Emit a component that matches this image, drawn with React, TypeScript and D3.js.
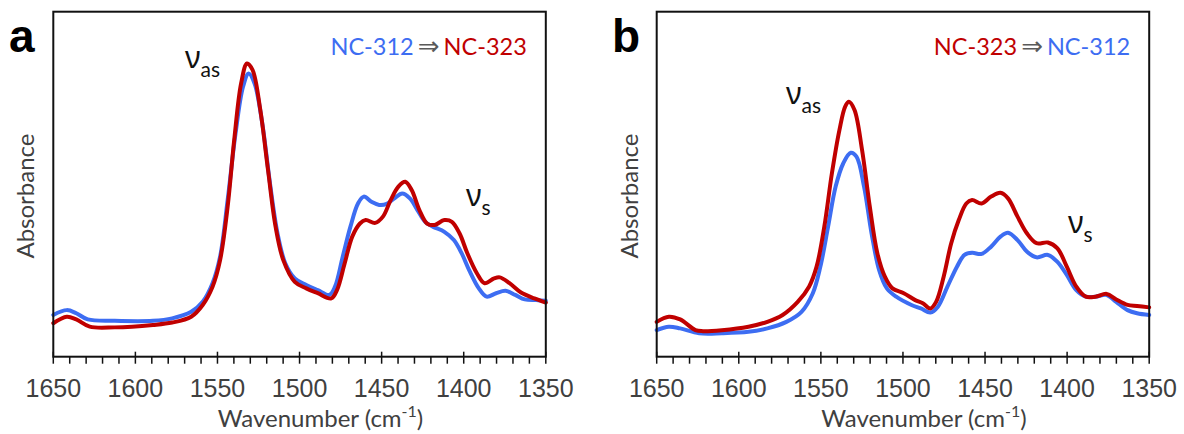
import React from "react";
import * as d3 from "d3";

// ---------- DATA ----------
const xTicksMajor = [1650, 1600, 1550, 1500, 1450, 1400, 1350];
const xTickLabels = ["1650", "1600", "1550", "1500", "1450", "1400", "1350"];

// Panel a, NC-312 (blue)
const aBlueWn = [1650, 1641.8, 1636, 1629, 1612.6, 1589.3, 1577.6, 1566, 1559, 1553, 1548.4, 1543.8, 1539, 1534.4, 1531, 1527.4, 1522.7, 1518, 1513.4, 1508.7, 1502.9, 1495.9, 1488.9, 1481.9, 1478.4, 1473.7, 1469, 1464.4, 1460.9, 1456.2, 1451.5, 1446.9, 1442.2, 1437.5, 1432.8, 1428.2, 1423.5, 1418.8, 1411.8, 1406, 1401.3, 1396.7, 1390.8, 1386.1, 1380.3, 1374.5, 1368.6, 1362.8, 1355.8, 1350];
const aBlueAbs = [0.121, 0.135, 0.126, 0.108, 0.104, 0.104, 0.111, 0.13, 0.159, 0.213, 0.29, 0.454, 0.647, 0.783, 0.821, 0.792, 0.676, 0.502, 0.357, 0.271, 0.227, 0.208, 0.193, 0.179, 0.203, 0.29, 0.377, 0.444, 0.464, 0.449, 0.44, 0.443, 0.459, 0.473, 0.459, 0.425, 0.391, 0.377, 0.362, 0.338, 0.3, 0.251, 0.198, 0.174, 0.184, 0.191, 0.179, 0.166, 0.164, 0.162];

// Panel a, NC-323 (red)
const aRedWn = [1650, 1641.8, 1636, 1627.8, 1612.6, 1589.3, 1577.6, 1566, 1559, 1553, 1548.4, 1543.8, 1539.8, 1535.6, 1532, 1528.6, 1523.9, 1519.2, 1514.6, 1509.9, 1502.9, 1495.9, 1488.9, 1480.7, 1477.2, 1472.5, 1467.9, 1463.2, 1459.7, 1453.9, 1449.2, 1444.5, 1439.8, 1435.6, 1431.7, 1427, 1422.3, 1417.7, 1411.8, 1407.2, 1402.5, 1397.8, 1392, 1387.3, 1381.5, 1378, 1372.1, 1365.1, 1357, 1350];
const aRedAbs = [0.097, 0.116, 0.108, 0.087, 0.085, 0.092, 0.099, 0.116, 0.15, 0.203, 0.28, 0.435, 0.628, 0.792, 0.85, 0.831, 0.715, 0.541, 0.377, 0.28, 0.217, 0.198, 0.184, 0.169, 0.193, 0.271, 0.348, 0.386, 0.396, 0.388, 0.406, 0.454, 0.493, 0.507, 0.483, 0.425, 0.386, 0.382, 0.396, 0.391, 0.357, 0.3, 0.242, 0.213, 0.227, 0.23, 0.213, 0.186, 0.169, 0.157];

// Panel b, NC-323 (red)
const bRedWn = [1650, 1642.6, 1635.7, 1626.4, 1621.8, 1610.3, 1594.1, 1582.6, 1573.3, 1564.1, 1557.2, 1552.6, 1547.9, 1543.3, 1538.7, 1535.2, 1532.9, 1529.5, 1524.9, 1520.2, 1515.6, 1511, 1506.4, 1499.5, 1492.5, 1487.9, 1483.3, 1479.8, 1475.2, 1470.6, 1466, 1461.4, 1457.9, 1452.1, 1446.3, 1440.6, 1436, 1430.2, 1424.4, 1418.6, 1411.7, 1405.9, 1400.2, 1394.4, 1388.6, 1382.8, 1375.9, 1370.1, 1363.2, 1357.4, 1350];
const bRedAbs = [0.101, 0.116, 0.108, 0.077, 0.074, 0.077, 0.087, 0.101, 0.121, 0.159, 0.203, 0.261, 0.377, 0.531, 0.657, 0.725, 0.739, 0.715, 0.599, 0.435, 0.3, 0.232, 0.198, 0.184, 0.164, 0.155, 0.14, 0.159, 0.232, 0.329, 0.396, 0.444, 0.454, 0.444, 0.464, 0.475, 0.459, 0.406, 0.357, 0.329, 0.331, 0.314, 0.261, 0.203, 0.174, 0.174, 0.182, 0.166, 0.15, 0.147, 0.143];

// Panel b, NC-312 (blue)
const bBlueWn = [1650, 1642.6, 1635.7, 1624.1, 1610.3, 1594.1, 1582.6, 1571, 1561.8, 1554.9, 1550.3, 1545.6, 1541, 1536.4, 1531.8, 1528.3, 1523.7, 1519.1, 1514.5, 1509.8, 1504.1, 1494.8, 1489.1, 1483.3, 1478.7, 1472.9, 1467.1, 1462.5, 1457.9, 1452.1, 1446.3, 1440.6, 1436, 1430.2, 1424.4, 1418.6, 1411.7, 1405.9, 1400.2, 1394.4, 1388.6, 1382.8, 1375.9, 1370.1, 1363.2, 1357.4, 1350];
const bBlueAbs = [0.077, 0.087, 0.082, 0.068, 0.068, 0.072, 0.082, 0.101, 0.13, 0.184, 0.261, 0.377, 0.493, 0.56, 0.591, 0.58, 0.493, 0.357, 0.251, 0.198, 0.174, 0.15, 0.14, 0.128, 0.145, 0.203, 0.261, 0.295, 0.301, 0.298, 0.319, 0.348, 0.359, 0.338, 0.304, 0.288, 0.295, 0.275, 0.237, 0.193, 0.174, 0.174, 0.179, 0.159, 0.135, 0.126, 0.121];

const BLUE = "#3d6df2";
const RED = "#c00000";
const TEXT_GRAY = "#404040";

type Series = { wn: number[]; abs: number[]; color: string };

function Panel(props: {
  left: number;
  letter: string;
  letterX: number;
  series: Series[];
  legend: { text: string; color: string }[];
  nuAs: [number, number];
  nuS: [number, number];
}) {
  const { left, letter, letterX, series, legend, nuAs, nuS } = props;
  const top = 11.7;
  const bottom = 356.7;
  const width = 492.5;
  const right = left + width;
  const x = d3.scaleLinear().domain([1650, 1350]).range([left, right]);
  const y = d3.scaleLinear().domain([0, 1]).range([bottom, top]);
  const line = d3
    .line<[number, number]>()
    .x((d) => x(d[0]))
    .y((d) => y(d[1]))
    .curve(d3.curveCatmullRom.alpha(0.5));
  const minor = d3.range(1350, 1651, 10).filter((v) => v % 50 !== 0);
  const cx = (left + right) / 2;

  return (
    <g>
      {series.map((s, i) => (
        <path
          key={i}
          d={line(s.wn.map((w, k) => [w, s.abs[k]] as [number, number])) || ""}
          fill="none"
          stroke={s.color}
          strokeWidth={4}
          strokeLinejoin="round"
          strokeLinecap="round"
        />
      ))}
      <rect x={left} y={top} width={width} height={bottom - top} fill="none" stroke="#111" strokeWidth={2} />
      {minor.map((v) => (
        <line key={"m" + v} x1={x(v)} x2={x(v)} y1={bottom} y2={bottom + 7} stroke="#111" strokeWidth={1.5} />
      ))}
      {xTicksMajor.map((v, i) => (
        <g key={"M" + v}>
          <line x1={x(v)} x2={x(v)} y1={bottom - 5} y2={bottom + 7} stroke="#111" strokeWidth={1.5} />
          <text x={x(v)} y={397} textAnchor="middle" fontFamily="Liberation Sans, Arial" fontSize={25} fill={TEXT_GRAY}>
            {xTickLabels[i]}
          </text>
        </g>
      ))}
      <text x={cx + 21} y={427} textAnchor="middle" fontFamily="Lato" fontSize={24} fill={TEXT_GRAY}>
        Wavenumber (cm<tspan dy={-10} fontSize={16}>-1</tspan><tspan dy={10}>)</tspan>
      </text>
      <text
        transform={`translate(${left - 19},196) rotate(-90)`}
        textAnchor="middle"
        fontFamily="Lato"
        fontSize={24}
        fill={TEXT_GRAY}
      >
        Absorbance
      </text>
      <text x={letterX} y={52} fontFamily="Liberation Sans, Arial" fontWeight="bold" fontSize={46} fill="#000">
        {letter}
      </text>
      <text x={right - 19} y={55} textAnchor="end" fontFamily="Lato" fontSize={23.5}>
        <tspan fill={legend[0].color}>{legend[0].text}</tspan>
        <tspan fill="#5a5a5a" fontFamily="DejaVu Sans" fontSize={26} dx={4}>⇒</tspan>
        <tspan fill={legend[1].color} dx={4}>{legend[1].text}</tspan>
      </text>
      <text x={nuAs[0]} y={nuAs[1]} fontFamily="Noto Sans" fontSize={30} fill="#111">
        ν<tspan dy={9} fontFamily="Lato" fontSize={21}>as</tspan>
      </text>
      <text x={nuS[0]} y={nuS[1]} fontFamily="Noto Sans" fontSize={30} fill="#111">
        ν<tspan dy={9} fontFamily="Lato" fontSize={21}>s</tspan>
      </text>
    </g>
  );
}

export default function App() {
  return (
    <svg
      width={1184}
      height={434}
      style={{ position: "absolute", left: 0, top: 0, background: "#fff" }}
    >
      <rect x={0} y={0} width={1184} height={434} fill="#fff" />
      <Panel
        left={53.3}
        letter="a"
        letterX={9}
        series={[
          { wn: aBlueWn, abs: aBlueAbs, color: BLUE },
          { wn: aRedWn, abs: aRedAbs, color: RED },
        ]}
        legend={[
          { text: "NC-312", color: BLUE },
          { text: "NC-323", color: RED },
        ]}
        nuAs={[185, 68]}
        nuS={[466, 206]}
      />
      <Panel
        left={656.7}
        letter="b"
        letterX={612}
        series={[
          { wn: bBlueWn, abs: bBlueAbs, color: BLUE },
          { wn: bRedWn, abs: bRedAbs, color: RED },
        ]}
        legend={[
          { text: "NC-323", color: RED },
          { text: "NC-312", color: BLUE },
        ]}
        nuAs={[786, 104]}
        nuS={[1068, 233]}
      />
    </svg>
  );
}
